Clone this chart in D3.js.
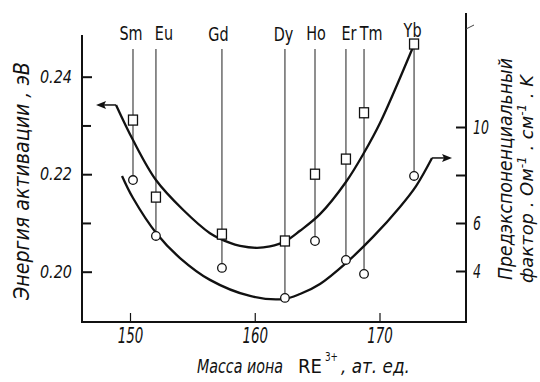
<!DOCTYPE html>
<html><head><meta charset="utf-8">
<script src="https://cdn.jsdelivr.net/npm/d3@7"></script>
<style>
html,body{margin:0;padding:0;background:#fff;}
svg text{font-family:'DejaVu Sans',sans-serif;font-style:italic;fill:#111;}
</style></head>
<body>
<svg id="c" width="540" height="382"></svg>
<script>
// ---- data ----
const elements = ["Sm","Eu","Gd","Dy","Ho","Er","Tm","Yb"];
const ionMass = [150.24, 152.08, 157.37, 162.42, 164.83, 167.31, 168.76, 172.77];
const activationEnergy = [0.2311, 0.2153, 0.2077, 0.2063, 0.2200, 0.2231, 0.2326, 0.2467]; // squares, left axis (eV)
const preexpFactor = [7.79, 5.46, 4.13, 2.88, 5.25, 4.46, 3.88, 7.96]; // circles, right axis

// fitted curves (hand-drawn in the original)
const energyFitMass = [148.88, 150.24, 152.08, 154.25, 156.41, 158.02, 158.82, 160.18, 161.22, 162.42, 163.63, 165.23, 167.31, 168.76, 170.04, 172.69];
const energyFitValue = [0.2342, 0.2270, 0.2188, 0.2127, 0.2079, 0.2059, 0.2053, 0.2049, 0.2052, 0.2062, 0.2084, 0.2118, 0.2184, 0.2244, 0.2305, 0.2461];
const preexpFitMass = [149.36, 150.24, 152.16, 154.01, 156.41, 159.62, 162.26, 163.63, 165.23, 167.31, 169.48, 171.64, 172.93, 174.21];
const preexpFitValue = [7.96, 7.04, 5.54, 4.54, 3.63, 2.96, 2.83, 3.04, 3.46, 4.33, 5.42, 6.67, 7.54, 8.71];

const xTicks = [150, 160, 170];
const leftMajorTicks = [0.20, 0.22, 0.24];
const leftMinorTicks = [0.21, 0.23];
const rightMajorTicks = [4, 6, 10];
const rightMinorTicks = [8];

const xTitleParts = ["Масса иона", "RE", "3+", ", ат. ед."];
const leftTitle = "Энергия активации , эВ";
const rightTitle1 = "Предэкспоненциальный";

// ---- layout ----
const svg = d3.select("#c");
const x = d3.scaleLinear().domain([150, 170]).range([130, 379.5]);
const yL = d3.scaleLinear().domain([0.20, 0.24]).range([271.7, 76.7]);
const yR = d3.scaleLinear().domain([4, 10]).range([271, 127]);
const X0 = 82, X1 = 466, YB = 322, YTL = 35, YTR = 13;

function squeeze(sel, sx){
  sel.each(function(){
    const t = d3.select(this);
    const tx = +t.attr("x") || 0, ty = +t.attr("y") || 0;
    t.attr("x", 0).attr("y", 0).attr("transform", `translate(${tx},${ty}) scale(${sx},1)`);
  });
}
// place a text so that its width equals w (scaled horizontally), rotated by rot
function fitText(tx, ty, w, rot, str, size, anchor, upright){
  const t = svg.append("text").attr("font-size", size).attr("text-anchor", anchor || "start").text(str);
  if (upright) t.style("font-style","normal");
  const nat = t.node().getComputedTextLength();
  t.attr("transform", `translate(${tx},${ty}) rotate(${rot}) scale(${w/nat},1)`);
  return t;
}

// axes lines
svg.append("path").attr("d", `M${X0},${YTL}V${YB}H${X1}V${YTR}`)
  .attr("fill","none").attr("stroke","#111").attr("stroke-width",2);
svg.append("line").attr("x1",X1).attr("y1",29).attr("x2",X1+8).attr("y2",25)
  .attr("stroke","#444").attr("stroke-width",1);

function styleAxis(g){
  g.select(".domain").remove();
  g.selectAll(".tick line").attr("stroke","#111").attr("stroke-width",2);
  g.selectAll("text").attr("fill","#111").style("font-family","'DejaVu Sans',sans-serif").style("font-style","italic");
}

const gl = svg.append("g").attr("transform",`translate(${X0},0)`)
  .call(d3.axisLeft(yL).tickValues(leftMajorTicks).tickSize(-10).tickPadding(10).tickFormat(d3.format(".2f"))).call(styleAxis);
gl.selectAll("text").attr("font-size",18).call(squeeze, 0.8);
svg.append("g").attr("transform",`translate(${X0},0)`)
  .call(d3.axisLeft(yL).tickValues(leftMinorTicks).tickSize(-9).tickFormat("")).call(styleAxis);
const gr = svg.append("g").attr("transform",`translate(${X1},0)`)
  .call(d3.axisRight(yR).tickValues(rightMajorTicks).tickSize(-10).tickPadding(7).tickFormat(d3.format("d"))).call(styleAxis);
gr.selectAll("text").attr("font-size",19).call(squeeze, 0.66);
svg.append("g").attr("transform",`translate(${X1},0)`)
  .call(d3.axisRight(yR).tickValues(rightMinorTicks).tickSize(-10).tickFormat("")).call(styleAxis);
const gx = svg.append("g").attr("transform",`translate(0,${YB})`)
  .call(d3.axisBottom(x).tickValues(xTicks).tickSize(-9).tickPadding(6).tickFormat(d3.format("d"))).call(styleAxis);
gx.selectAll(".tick line").attr("stroke-width",1.2);
gx.selectAll("text").attr("font-size",21).call(squeeze, 0.64);

// vertical element lines
const idx = d3.range(elements.length);
svg.append("g").selectAll("line").data(idx).join("line")
  .attr("x1", i => x(ionMass[i])).attr("x2", i => x(ionMass[i]))
  .attr("y1", i => elements[i] === "Yb" ? yL(activationEnergy[i]) + 5 : 49)
  .attr("y2", i => yR(preexpFactor[i]) - 4.5)
  .attr("stroke","#333").attr("stroke-width",1.1);

// element labels
const labelDx = {Sm:-2, Eu:8, Gd:-3.5, Dy:-1.5, Ho:1, Er:3, Tm:7, Yb:-1.5};
const labelY = {Sm:40, Eu:40, Gd:41, Dy:41, Ho:40, Er:40, Tm:40, Yb:37};
svg.append("g").selectAll("text").data(idx).join("text")
  .attr("x", i => x(ionMass[i]) + labelDx[elements[i]])
  .attr("y", i => labelY[elements[i]])
  .attr("text-anchor","middle").attr("font-size",20).style("font-style","normal")
  .text(i => elements[i]).call(squeeze, 0.72);

// fit curves
const line = d3.line().curve(d3.curveCatmullRom.alpha(0.5));
const ePts = energyFitMass.map((m,i)=>[x(m), yL(energyFitValue[i])]);
const pPts = preexpFitMass.map((m,i)=>[x(m), yR(preexpFitValue[i])]);
svg.append("path").attr("d", line(ePts)).attr("fill","none").attr("stroke","#111").attr("stroke-width",2.3);
svg.append("path").attr("d", line(pPts)).attr("fill","none").attr("stroke","#111").attr("stroke-width",2.3);

// arrows
function arrow(x0, y0, dir){
  const len = 20, tip = x0 + dir*len;
  svg.append("line").attr("x1",x0).attr("y1",y0).attr("x2",tip - dir*6).attr("y2",y0).attr("stroke","#111").attr("stroke-width",1.5);
  svg.append("path").attr("d",`M${tip},${y0}L${tip-dir*10},${y0-4}L${tip-dir*8},${y0}L${tip-dir*10},${y0+4}Z`).attr("fill","#111");
}
arrow(ePts[0][0], ePts[0][1], -1);
arrow(pPts[pPts.length-1][0], pPts[pPts.length-1][1], 1);

// markers
svg.append("g").selectAll("rect").data(idx).join("rect")
  .attr("x", i => x(ionMass[i]) - 4.5).attr("y", i => yL(activationEnergy[i]) - 5)
  .attr("width",9).attr("height",10).attr("fill","#fff").attr("stroke","#111").attr("stroke-width",1.3);
svg.append("g").selectAll("circle").data(idx).join("circle")
  .attr("cx", i => x(ionMass[i])).attr("cy", i => yR(preexpFactor[i])).attr("r",4.3)
  .attr("fill","#fff").attr("stroke","#111").attr("stroke-width",1.3);

// bottom title (split into pieces)
fitText(197, 373, 86, 0, xTitleParts[0], 20, "start", false);
fitText(298, 373, 24, 0, xTitleParts[1], 20, "start", true);
fitText(325, 361, 13, 0, xTitleParts[2], 13, "start", true);
fitText(341, 373, 69, 0, xTitleParts[3], 20, "start", false);

// rotated titles
fitText(29, 181, 238, -90, leftTitle, 21, "middle", false);
fitText(512, 169, 222, -90, rightTitle1, 19, "middle", false);

const r2 = svg.append("text").attr("font-size",18).attr("text-anchor","middle");
r2.append("tspan").text("фактор . Ом");
r2.append("tspan").attr("dy",-7).attr("font-size",12).text("-1");
r2.append("tspan").attr("dy",7).text(" . см");
r2.append("tspan").attr("dy",-7).attr("font-size",12).text("-1");
r2.append("tspan").attr("dy",7).text(" . K");
const r2w = r2.node().getComputedTextLength();
r2.attr("transform", `translate(533,179) rotate(-90) scale(${208/r2w},1)`);
</script>
</body></html>
